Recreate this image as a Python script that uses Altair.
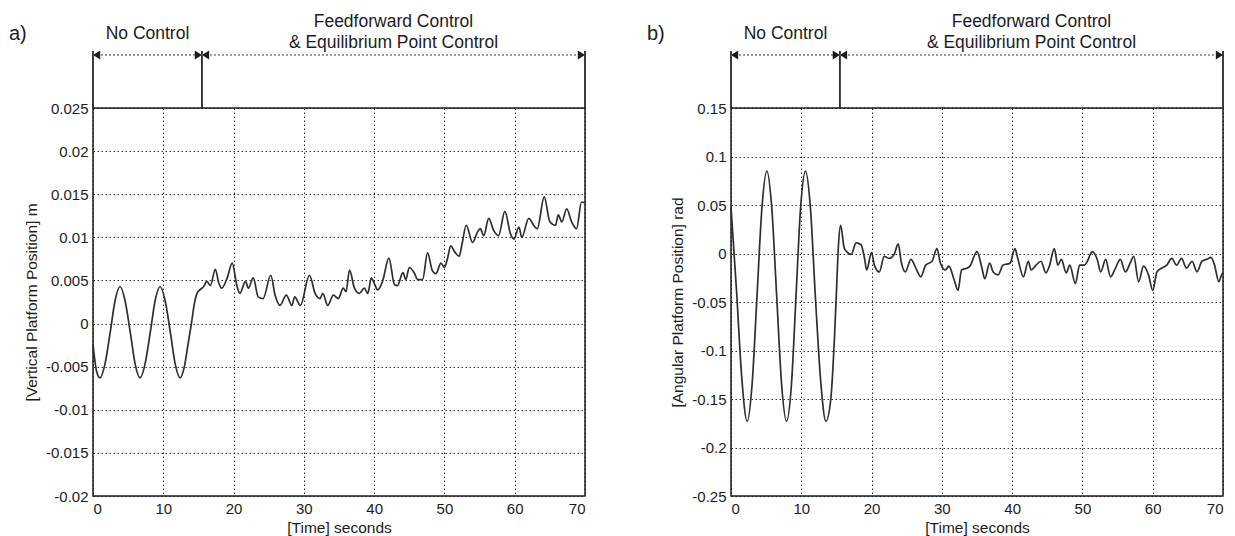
import altair as alt
import pandas as pd

# ---- data ----
a_time = [0.0, 0.5, 1.0, 1.7, 2.45, 3.15, 3.85, 4.55, 5.3, 6.0, 6.7, 7.4, 8.15, 8.85, 9.55,
          10.25, 11.0, 11.7, 12.4, 13.0, 13.6, 14.0, 14.4, 14.8,
          15.2, 15.75, 16.2, 16.7, 17.4, 17.9, 18.3, 19.1, 19.8, 20.5, 20.9, 21.7, 22.1, 22.8,
          23.5, 24.2, 25.3, 25.9, 26.6, 27.5, 28.3, 28.7, 29.5, 30.8, 31.6, 32.3, 32.7, 33.4,
          34.2, 34.9, 35.6, 36.0, 36.5, 37.2, 37.9, 38.6, 39.1, 39.6, 40.0, 40.5, 41.2, 42.1,
          42.9, 43.3, 44.1, 44.5, 45.0, 45.7, 46.2, 46.9, 47.6, 48.3, 48.8, 49.5, 50.0, 50.4,
          50.9, 51.4, 52.1, 52.5, 53.1, 54.0, 54.7, 55.1, 55.6, 56.3, 57.0, 57.7, 58.6, 59.4,
          59.9, 60.6, 61.0, 62.0, 62.7, 63.2, 64.2, 65.0, 65.8, 66.2, 66.7, 67.4, 68.1, 68.8,
          69.5, 70.0]
a_value = [-0.0024, -0.0055, -0.0063, -0.0047, -0.0010, 0.0027, 0.0043, 0.0027, -0.0010,
           -0.0047, -0.0063, -0.0047, -0.0010, 0.0027, 0.0043, 0.0027, -0.0010, -0.0047,
           -0.0063, -0.0050, -0.0020, 0.0000, 0.0022, 0.0035,
           0.0039, 0.0043, 0.0049, 0.0044, 0.0063, 0.0047, 0.0041, 0.0053, 0.0070, 0.0043,
           0.0035, 0.0049, 0.0041, 0.0053, 0.0031, 0.0029, 0.0056, 0.0033, 0.0021, 0.0033,
           0.0021, 0.0031, 0.0021, 0.0056, 0.0035, 0.0029, 0.0035, 0.0021, 0.0033, 0.0029,
           0.0041, 0.0037, 0.0062, 0.0041, 0.0035, 0.0041, 0.0035, 0.0053, 0.0047, 0.0039,
           0.0049, 0.0076, 0.0045, 0.0044, 0.0059, 0.0051, 0.0065, 0.0059, 0.0051, 0.0051,
           0.0082, 0.0061, 0.0058, 0.0070, 0.0065, 0.0074, 0.0090, 0.0084, 0.0078, 0.0092,
           0.0114, 0.0094, 0.0106, 0.0110, 0.0102, 0.0122, 0.0108, 0.0102, 0.0130, 0.0104,
           0.0098, 0.0112, 0.0100, 0.0122, 0.0114, 0.0110, 0.0147, 0.0118, 0.0114, 0.0126,
           0.0118, 0.0133, 0.0118, 0.0110, 0.0141, 0.0140]

b_time = [0.0, 0.8, 1.5, 2.3, 3.0, 3.7, 4.4, 5.1, 5.8, 6.5, 7.2, 7.9, 8.6, 9.25, 9.9, 10.6,
          11.3, 12.0, 12.8, 13.5, 14.2, 14.7, 15.0, 15.3, 15.6,
          16.1, 16.6, 17.1, 17.8, 18.5, 19.0, 19.3, 20.0, 20.4, 21.1, 21.8, 22.5, 23.2, 23.8,
          24.2, 24.8, 25.6, 26.3, 27.0, 27.7, 28.6, 29.3, 29.8, 30.5, 31.0, 31.7, 32.3, 32.8,
          33.6, 34.0, 35.0, 35.7, 36.1, 36.8, 37.3, 38.0, 38.7, 39.7, 40.4, 40.8, 41.6, 42.3,
          42.7, 43.4, 44.1, 44.8, 45.3, 46.0, 46.5, 47.0, 47.7, 48.2, 49.0, 49.6, 50.3, 50.7,
          51.4, 52.1, 52.6, 53.3, 54.0, 54.7, 55.4, 56.1, 56.8, 57.3, 58.0, 58.7, 59.4, 60.0,
          60.6, 61.3, 62.0, 62.7, 63.4, 64.1, 64.8, 65.6, 66.3, 67.0, 67.7, 68.3, 68.8, 69.4,
          69.8, 70.0]
b_value = [0.048, -0.040, -0.125, -0.173, -0.135, -0.044, 0.047, 0.085, 0.047, -0.044,
           -0.135, -0.173, -0.135, -0.044, 0.047, 0.085, 0.047, -0.044, -0.135, -0.173,
           -0.150, -0.090, -0.040, 0.010, 0.029,
           0.006, 0.001, -0.001, 0.011, 0.009, -0.005, -0.017, 0.001, -0.012, -0.019, -0.003,
           -0.005, -0.001, 0.010, -0.008, -0.019, -0.006, -0.015, -0.024, -0.012, -0.008,
           0.005, -0.010, -0.017, -0.013, -0.026, -0.038, -0.017, -0.015, -0.013, 0.002,
           -0.015, -0.026, -0.010, -0.019, -0.022, -0.012, -0.010, 0.005, -0.005, -0.024,
           -0.008, -0.017, -0.012, -0.008, -0.020, -0.013, 0.005, -0.012, -0.006, -0.020,
           -0.012, -0.031, -0.012, -0.012, -0.008, 0.002, -0.006, -0.019, -0.006, -0.024,
           -0.015, -0.006, -0.019, -0.010, -0.003, -0.029, -0.013, -0.022, -0.038, -0.019,
           -0.015, -0.012, -0.005, -0.012, -0.005, -0.015, -0.008, -0.019, -0.008, -0.006,
           -0.004, -0.012, -0.029, -0.022, -0.020]

x_ticks = [0, 10, 20, 30, 40, 50, 60, 70]
a_y_ticks = [-0.02, -0.015, -0.01, -0.005, 0, 0.005, 0.01, 0.015, 0.02, 0.025]
b_y_ticks = [-0.25, -0.2, -0.15, -0.1, -0.05, 0, 0.05, 0.1, 0.15]
a_y_domain = [-0.02, 0.025]
b_y_domain = [-0.25, 0.15]

phase_bounds = [0, 15.5, 70]
phase1_label = ["No Control"]
phase2_label = ["Feedforward Control", "& Equilibrium Point Control"]

FONT = "Liberation Sans"
INK = "#1c1c1c"
W, H = 492, 388


def panel(times, values, ydom, yticks, ytitle, letter):
    df = pd.DataFrame({"t": times, "v": values})
    xenc = alt.X("t:Q", scale=alt.Scale(domain=[0, 70], nice=False, zero=False),
                 axis=alt.Axis(values=x_ticks, title="[Time] seconds"))
    line = alt.Chart(df).mark_line(color="#2e2e2e", strokeWidth=1.7,
                                   interpolate="monotone").encode(
        x=xenc,
        y=alt.Y("v:Q", scale=alt.Scale(domain=ydom, nice=False, zero=False),
                axis=alt.Axis(values=yticks, title=ytitle,
                              labelExpr="replace(format(datum.value, '~g'), '\u2212', '-')")),
    )
    bounds = pd.DataFrame({"t": phase_bounds})
    vlines = alt.Chart(bounds).mark_rule(color=INK, strokeWidth=1.7).encode(
        x=xenc, y=alt.value(-57), y2=alt.value(0))
    segs = pd.DataFrame({"t": phase_bounds[:-1], "t2": phase_bounds[1:]})
    arrows = alt.Chart(segs).mark_rule(color="#777", strokeWidth=1.3,
                                       strokeDash=[2, 2]).encode(
        x=xenc, x2="t2:Q", y=alt.value(-53))
    left_heads = alt.Chart(pd.DataFrame({"t": phase_bounds[:-1]})).mark_point(
        shape="M0,0L1.6,-1L1.6,1Z", filled=True, color=INK, opacity=1, size=81).encode(
        x=xenc, y=alt.value(-53))
    right_heads = alt.Chart(pd.DataFrame({"t": phase_bounds[1:]})).mark_point(
        shape="M0,0L-1.6,-1L-1.6,1Z", filled=True, color=INK, opacity=1, size=81).encode(
        x=xenc, y=alt.value(-53))
    t1 = alt.Chart(pd.DataFrame({"t": [(phase_bounds[0] + phase_bounds[1]) / 2],
                                 "s": phase1_label})).mark_text(
        fontSize=17.5, font=FONT, color=INK, baseline="middle").encode(
        x=xenc, y=alt.value(-74), text="s:N")
    mid2 = (phase_bounds[1] + phase_bounds[2]) / 2
    t2a = alt.Chart(pd.DataFrame({"t": [mid2], "s": [phase2_label[0]]})).mark_text(
        fontSize=17.5, font=FONT, color=INK, baseline="middle").encode(
        x=xenc, y=alt.value(-86), text="s:N")
    t2b = alt.Chart(pd.DataFrame({"t": [mid2], "s": [phase2_label[1]]})).mark_text(
        fontSize=17.5, font=FONT, color=INK, baseline="middle").encode(
        x=xenc, y=alt.value(-65), text="s:N")
    lt = alt.Chart(pd.DataFrame({"s": [letter]})).mark_text(
        fontSize=20, font=FONT, color=INK, align="left", baseline="middle").encode(
        x=alt.value(-84), y=alt.value(-74), text="s:N")
    return alt.layer(line, vlines, arrows, left_heads, right_heads, t1, t2a, t2b, lt).properties(
        width=W, height=H)


left = panel(a_time, a_value, a_y_domain, a_y_ticks, "[Vertical Platform Position] m", "a)")
right = panel(b_time, b_value, b_y_domain, b_y_ticks, "[Angular Platform Position] rad", "b)")

chart = alt.hconcat(left, right, spacing=56).properties(
    padding={"left": 8, "top": 12, "right": 0, "bottom": 0},
    background="white",
).configure_view(stroke=INK, strokeWidth=1.5).configure_axis(
    labelFont=FONT, titleFont=FONT, labelFontSize=15, titleFontSize=15.5,
    labelColor=INK, titleColor=INK, titleFontWeight="normal",
    ticks=False, domain=False, labelPadding=5, titlePadding=6,
    grid=True, gridColor="#111", gridDash=[1.5, 2.5], gridOpacity=0.85, gridWidth=1,
).configure_axisX(labelPadding=5, titlePadding=4).configure_text(font=FONT)

chart.save("out.html", embed_options={"renderer": "svg", "actions": False})
